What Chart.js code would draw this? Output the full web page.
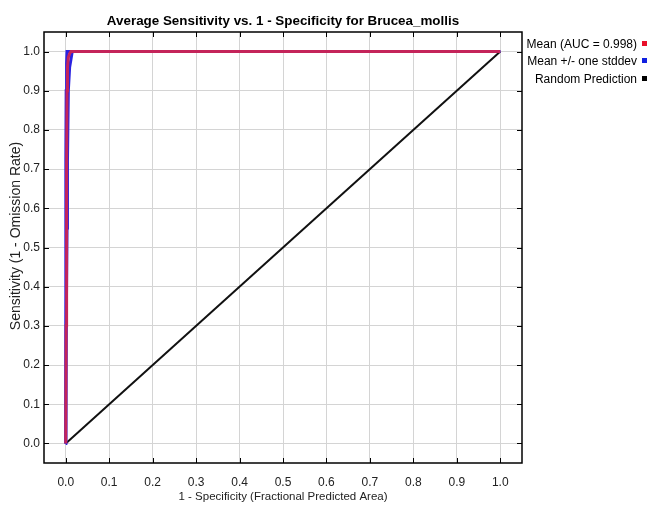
<!DOCTYPE html>
<html>
<head>
<meta charset="utf-8">
<script src="https://cdn.jsdelivr.net/npm/chart.js@4.4.1/dist/chart.umd.min.js"></script>
<style>
html,body{margin:0;padding:0;background:#fff;}
canvas{display:block;}
</style>
</head>
<body>
<canvas id="c" width="651" height="505"></canvas>
<script>
// ---- data ----
const chartTitle = 'Average Sensitivity vs. 1 - Specificity for Brucea_mollis';
const xAxisTitle = '1 - Specificity (Fractional Predicted Area)';
const yAxisTitle = 'Sensitivity (1 - Omission Rate)';
const xTicks = [0.0, 0.1, 0.2, 0.3, 0.4, 0.5, 0.6, 0.7, 0.8, 0.9, 1.0];
const yTicks = [0.0, 0.1, 0.2, 0.3, 0.4, 0.5, 0.6, 0.7, 0.8, 0.9, 1.0];

const meanX  = [0, 0.001, 0.002, 0.003, 0.004, 0.006, 0.009, 0.012, 1.0];
const meanY  = [0, 0.30, 0.70, 0.90, 0.96, 0.985, 0.995, 1.0, 1.0];
const upperX = [0, 0.0, 0.0005, 0.001, 0.002, 0.003, 1.0];
const upperY = [0, 0.55, 0.72, 0.90, 0.97, 1.0, 1.0];
const lowerX = [0, 0.001, 0.003, 0.004, 0.006, 0.009, 0.012, 0.015, 1.0];
const lowerY = [0, 0.27, 0.55, 0.72, 0.90, 0.96, 0.98, 1.0, 1.0];
const randX  = [0, 1.0];
const randY  = [0, 1.0];

const legendLabels = ['Mean (AUC = 0.998)', 'Mean +/- one stddev', 'Random Prediction'];
const legendColors = ['#e8102a', '#1020e0', '#000000'];

const FONT = "'Liberation Sans Narrow', 'Arial Narrow', 'Liberation Sans', Arial, sans-serif";
const MEAN_COLOR = '#c4245a';
const SD_COLOR = '#2a22e0';

const pts = (xs, ys) => xs.map((x, i) => ({x: x, y: ys[i]}));

const frame = {
  id: 'frame',
  beforeDatasetsDraw(chart) {
    const {ctx, chartArea: a, scales: {x, y}} = chart;
    ctx.save();
    ctx.strokeStyle = '#000';
    ctx.lineWidth = 1;
    xTicks.forEach(v => {
      const px = Math.round(x.getPixelForValue(v)) + 0.5;
      ctx.beginPath(); ctx.moveTo(px, a.bottom); ctx.lineTo(px, a.bottom - 5); ctx.stroke();
      ctx.beginPath(); ctx.moveTo(px, a.top); ctx.lineTo(px, a.top + 5); ctx.stroke();
    });
    yTicks.forEach(v => {
      const py = Math.round(y.getPixelForValue(v)) + 0.5;
      ctx.beginPath(); ctx.moveTo(a.left, py); ctx.lineTo(a.left + 5, py); ctx.stroke();
      ctx.beginPath(); ctx.moveTo(a.right, py); ctx.lineTo(a.right - 5, py); ctx.stroke();
    });
    ctx.restore();
  },
  afterDraw(chart) {
    const {ctx, chartArea: a} = chart;
    ctx.save();
    ctx.strokeStyle = '#000';
    ctx.lineWidth = 1.5;
    ctx.strokeRect(a.left, a.top, a.right - a.left, a.bottom - a.top);
    // title
    ctx.fillStyle = '#000';
    ctx.font = 'bold 13.4px ' + FONT;
    ctx.textAlign = 'center';
    ctx.textBaseline = 'middle';
    ctx.fillText(chartTitle, (a.left + a.right) / 2, 21);
    // y axis title
    ctx.save();
    ctx.fillStyle = '#222';
    ctx.font = '14px ' + FONT;
    ctx.translate(16, 236);
    ctx.rotate(-Math.PI / 2);
    ctx.fillText(yAxisTitle, 0, 0);
    ctx.restore();
    // legend
    ctx.font = '12px ' + FONT;
    ctx.textAlign = 'right';
    const rows = [45, 62, 80];
    legendLabels.forEach((t, i) => {
      ctx.fillStyle = '#000';
      ctx.fillText(t, 637, rows[i]);
      ctx.fillStyle = legendColors[i];
      ctx.fillRect(642, rows[i] - 4, 5, 5);
    });
    ctx.restore();
  }
};

new Chart(document.getElementById('c'), {
  type: 'scatter',
  data: {
    datasets: [
      {label: legendLabels[0], data: pts(meanX, meanY), borderColor: MEAN_COLOR, borderWidth: 3, showLine: true, pointRadius: 0, tension: 0},
      {label: 'upper', data: pts(upperX, upperY), borderColor: SD_COLOR, borderWidth: 3, showLine: true, pointRadius: 0, tension: 0},
      {label: 'lower', data: pts(lowerX, lowerY), borderColor: SD_COLOR, borderWidth: 3, showLine: true, pointRadius: 0, tension: 0},
      {label: legendLabels[2], data: pts(randX, randY), borderColor: '#111', borderWidth: 2, showLine: true, pointRadius: 0, tension: 0}
    ]
  },
  options: {
    responsive: false,
    animation: false,
    devicePixelRatio: 1,
    layout: {padding: {top: 32, right: 129, left: 0, bottom: 0}},
    plugins: {legend: {display: false}, tooltip: {enabled: false}, title: {display: false}},
    scales: {
      x: {
        type: 'linear', min: -0.05, max: 1.05,
        afterBuildTicks: s => { s.ticks = xTicks.map(v => ({value: v})); },
        afterFit: s => { s.height = 42; },
        grid: {color: '#d4d4d4', lineWidth: 1, drawTicks: false},
        border: {display: false},
        ticks: {color: '#222', font: {family: FONT, size: 12}, padding: 12, callback: v => v.toFixed(1), maxRotation: 0, autoSkip: false},
        title: {display: true, text: xAxisTitle, color: '#222', font: {family: FONT, size: 11.5}, padding: {top: 0, bottom: 1}}
      },
      y: {
        type: 'linear', min: -0.05, max: 1.05,
        afterBuildTicks: s => { s.ticks = yTicks.map(v => ({value: v})); },
        afterFit: s => { s.width = 44; },
        grid: {color: '#d4d4d4', lineWidth: 1, drawTicks: false},
        border: {display: false},
        ticks: {color: '#222', font: {family: FONT, size: 12}, padding: 4, callback: v => v.toFixed(1), autoSkip: false},
        title: {display: false}
      }
    }
  },
  plugins: [frame]
});
</script>
</body>
</html>
